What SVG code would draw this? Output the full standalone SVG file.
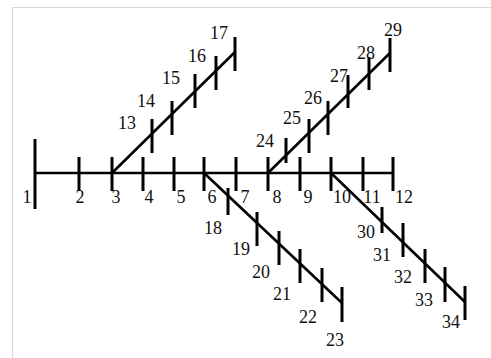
<svg xmlns="http://www.w3.org/2000/svg" width="491" height="358" viewBox="0 0 491 358">
<style>
.frame{stroke:#d9d9d9;stroke-width:1.2;fill:none}
.line{stroke:#000;stroke-width:2.6;fill:none}
.tick{stroke:#000;stroke-width:3;fill:none}
text{font-family:"Liberation Serif","Times New Roman",serif;font-size:18px;fill:#111;text-anchor:middle}
</style>
<rect width="491" height="358" fill="#fff"/>
<path class="frame" d="M12.5,358 V7.5 H491"/>
<g id="connectors">
<line class="line" x1="35" y1="173" x2="393" y2="173"/>
<line class="line" x1="112" y1="173" x2="235" y2="52"/>
<line class="line" x1="268" y1="173" x2="390" y2="53"/>
<line class="line" x1="204" y1="173" x2="342" y2="303"/>
<line class="line" x1="331" y1="173" x2="465" y2="302"/>
</g>
<g id="n1"><line class="tick" x1="35" y1="139" x2="35" y2="209"/><text x="27" y="203">1</text></g>
<g id="n2"><line class="tick" x1="79" y1="157" x2="79" y2="191"/><text x="80" y="203">2</text></g>
<g id="n3"><line class="tick" x1="112" y1="157" x2="112" y2="191"/><text x="116" y="203">3</text></g>
<g id="n4"><line class="tick" x1="143" y1="157" x2="143" y2="191"/><text x="149" y="203">4</text></g>
<g id="n5"><line class="tick" x1="174" y1="157" x2="174" y2="191"/><text x="181" y="203">5</text></g>
<g id="n6"><line class="tick" x1="204" y1="157" x2="204" y2="191"/><text x="212" y="203">6</text></g>
<g id="n7"><line class="tick" x1="236" y1="157" x2="236" y2="191"/><text x="245" y="203">7</text></g>
<g id="n8"><line class="tick" x1="268" y1="157" x2="268" y2="191"/><text x="277" y="203">8</text></g>
<g id="n9"><line class="tick" x1="300" y1="157" x2="300" y2="191"/><text x="308" y="203">9</text></g>
<g id="n10"><line class="tick" x1="331" y1="157" x2="331" y2="191"/><text x="342" y="203">10</text></g>
<g id="n11"><line class="tick" x1="363" y1="157" x2="363" y2="191"/><text x="372" y="203">11</text></g>
<g id="n12"><line class="tick" x1="393" y1="157" x2="393" y2="191"/><text x="404" y="203">12</text></g>
<g id="n13"><line class="tick" x1="152" y1="119" x2="152" y2="153"/><text x="127" y="129">13</text></g>
<g id="n14"><line class="tick" x1="172" y1="101" x2="172" y2="135"/><text x="146" y="107">14</text></g>
<g id="n15"><line class="tick" x1="195" y1="74" x2="195" y2="108"/><text x="171" y="84">15</text></g>
<g id="n16"><line class="tick" x1="216" y1="56" x2="216" y2="90"/><text x="197" y="62">16</text></g>
<g id="n17"><line class="tick" x1="235" y1="37" x2="235" y2="71"/><text x="219" y="39">17</text></g>
<g id="n24"><line class="tick" x1="286" y1="138" x2="286" y2="163"/><text x="265" y="147">24</text></g>
<g id="n25"><line class="tick" x1="309" y1="119" x2="309" y2="153"/><text x="292" y="124">25</text></g>
<g id="n26"><line class="tick" x1="328" y1="101" x2="328" y2="135"/><text x="313" y="104">26</text></g>
<g id="n27"><line class="tick" x1="348" y1="75" x2="348" y2="108"/><text x="339" y="82">27</text></g>
<g id="n28"><line class="tick" x1="369" y1="57" x2="369" y2="90"/><text x="366" y="59">28</text></g>
<g id="n29"><line class="tick" x1="390" y1="38" x2="390" y2="72"/><text x="393" y="36">29</text></g>
<g id="n18"><line class="tick" x1="228" y1="188" x2="228" y2="215"/><text x="213" y="234">18</text></g>
<g id="n19"><line class="tick" x1="257" y1="212" x2="257" y2="246"/><text x="241" y="255">19</text></g>
<g id="n20"><line class="tick" x1="279" y1="231" x2="279" y2="265"/><text x="261" y="278">20</text></g>
<g id="n21"><line class="tick" x1="300" y1="249" x2="300" y2="283"/><text x="282" y="300">21</text></g>
<g id="n22"><line class="tick" x1="322" y1="268" x2="322" y2="302"/><text x="308" y="323">22</text></g>
<g id="n23"><line class="tick" x1="342" y1="287" x2="342" y2="322"/><text x="335" y="346">23</text></g>
<g id="n30"><line class="tick" x1="382" y1="207" x2="382" y2="233"/><text x="366" y="238">30</text></g>
<g id="n31"><line class="tick" x1="403" y1="223" x2="403" y2="257"/><text x="382" y="261">31</text></g>
<g id="n32"><line class="tick" x1="425" y1="249" x2="425" y2="283"/><text x="403" y="283">32</text></g>
<g id="n33"><line class="tick" x1="445" y1="267" x2="445" y2="302"/><text x="424" y="306">33</text></g>
<g id="n34"><line class="tick" x1="465" y1="286" x2="465" y2="320"/><text x="451" y="328">34</text></g>
</svg>
